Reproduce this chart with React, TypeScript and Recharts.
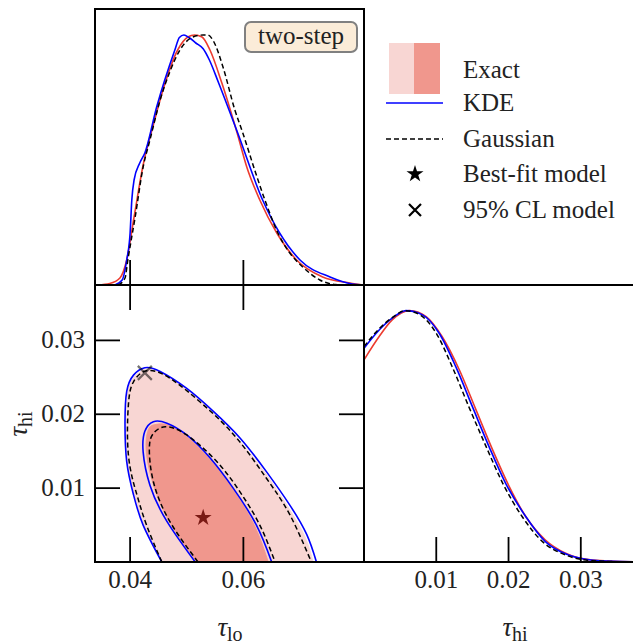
import { ComposedChart, Line, Scatter, XAxis, YAxis, Symbols } from 'recharts';

// ---------------------------------------------------------------------------
// Data
// ---------------------------------------------------------------------------

// 1D marginal of tau_lo, density normalised to the peak
const loExact = [
  [0.0343, 0], [0.0364, 0.006], [0.0382, 0.028], [0.0394, 0.1], [0.0407, 0.272],
  [0.0423, 0.48], [0.0441, 0.64], [0.0458, 0.78], [0.0484, 0.94], [0.0502, 0.992],
  [0.0514, 1.0], [0.0527, 0.992], [0.0541, 0.94], [0.0562, 0.808], [0.0589, 0.608],
  [0.0606, 0.472], [0.0629, 0.34], [0.0659, 0.208], [0.0694, 0.1], [0.074, 0.032],
  [0.0788, 0.008], [0.0813, 0],
];
const loKde = [
  [0.0373, 0], [0.0386, 0.02], [0.0394, 0.1], [0.04, 0.208], [0.0403, 0.34],
  [0.0407, 0.42], [0.0417, 0.488], [0.0426, 0.528], [0.0447, 0.713], [0.0479, 0.94],
  [0.0487, 0.99], [0.0495, 1.0], [0.0504, 0.99], [0.0516, 0.968], [0.0529, 0.945],
  [0.054, 0.9], [0.0556, 0.81], [0.059, 0.608], [0.0634, 0.34], [0.0664, 0.208],
  [0.07, 0.1], [0.0753, 0.032], [0.0792, 0.004], [0.0813, 0],
];
const loGauss = [
  [0.0379, 0], [0.0391, 0.028], [0.0396, 0.1], [0.0409, 0.273], [0.0423, 0.472],
  [0.0435, 0.58], [0.0453, 0.74], [0.047, 0.852], [0.0488, 0.94], [0.0511, 0.992],
  [0.0529, 1.0], [0.0537, 1.0], [0.0548, 0.972], [0.0564, 0.872], [0.0585, 0.7],
  [0.0599, 0.608], [0.062, 0.46], [0.0638, 0.34], [0.0661, 0.208], [0.0682, 0.128],
  [0.0705, 0.072], [0.0735, 0.02], [0.0762, 0.002], [0.0779, 0],
];

// 1D marginal of tau_hi
const hiExact = [
  [0, 0.804], [0.0021, 0.897], [0.0039, 0.963], [0.0063, 1.0], [0.0086, 0.976],
  [0.0108, 0.897], [0.0132, 0.764], [0.0155, 0.605], [0.0178, 0.446], [0.0201, 0.3],
  [0.0224, 0.18], [0.0251, 0.0875], [0.0279, 0.035], [0.0316, 0.008], [0.0375, 0.001],
];
const hiKde = [
  [0, 0.85], [0.0021, 0.923], [0.0039, 0.97], [0.0058, 1.0], [0.0081, 0.983],
  [0.0104, 0.91], [0.0127, 0.777], [0.015, 0.618], [0.0173, 0.459], [0.0196, 0.313],
  [0.0224, 0.18], [0.0251, 0.081], [0.0283, 0.028], [0.0326, 0.005], [0.0375, 0.001],
];
const hiGauss = [
  [0, 0.857], [0.0021, 0.928], [0.0039, 0.972], [0.0057, 1.0], [0.0079, 0.98],
  [0.0101, 0.905], [0.0122, 0.777], [0.0145, 0.618], [0.0169, 0.459], [0.0192, 0.313],
  [0.0219, 0.18], [0.0247, 0.081], [0.0279, 0.028], [0.0316, 0.005], [0.0375, 0],
];

// 2D contours (tau_lo, tau_hi), 95% and 68% levels
const exactOuter = [
  [0.0456, 0], [0.0425, 0.005], [0.0408, 0.0091], [0.0395, 0.0136], [0.0394, 0.019],
  [0.0396, 0.0231], [0.0408, 0.0251], [0.0428, 0.0261], [0.0456, 0.0255], [0.0502, 0.0232],
  [0.0546, 0.0202], [0.0592, 0.0165], [0.064, 0.0119], [0.068, 0.0073], [0.0709, 0.0034],
  [0.0723, 0],
];
const exactInner = [
  [0.0518, 0], [0.0476, 0.0046], [0.0447, 0.0091], [0.0429, 0.0145], [0.0432, 0.0179],
  [0.0444, 0.0186], [0.0465, 0.0186], [0.05, 0.017], [0.0542, 0.0138], [0.0582, 0.0098],
  [0.062, 0.0049], [0.0644, 0],
];
const kdeOuter = [
  [0.0456, 0], [0.0423, 0.005], [0.0406, 0.0091], [0.0394, 0.0136], [0.0391, 0.019],
  [0.0394, 0.0231], [0.0406, 0.0253], [0.0426, 0.0263], [0.0453, 0.0258], [0.05, 0.0235],
  [0.0547, 0.0204], [0.0594, 0.0168], [0.0641, 0.0122], [0.0682, 0.0077], [0.0712, 0.0037],
  [0.0729, 0],
];
const kdeInner = [
  [0.0515, 0], [0.0465, 0.0055], [0.0435, 0.0104], [0.0423, 0.0149], [0.0426, 0.0177],
  [0.0441, 0.019], [0.0465, 0.0188], [0.05, 0.0172], [0.0541, 0.0141], [0.0582, 0.01],
  [0.0623, 0.005], [0.065, 0],
];
const gaussOuter = [
  [0.0456, 0], [0.0429, 0.005], [0.0412, 0.0091], [0.0397, 0.0145], [0.0397, 0.0213],
  [0.0406, 0.0244], [0.0429, 0.0259], [0.047, 0.0249], [0.0529, 0.0213], [0.0588, 0.0168],
  [0.0641, 0.0113], [0.0682, 0.0064], [0.072, 0],
];
const gaussInner = [
  [0.052, 0], [0.047, 0.0055], [0.0441, 0.0109], [0.0434, 0.0154], [0.0441, 0.0174],
  [0.0462, 0.0183], [0.05, 0.0172], [0.0553, 0.0136], [0.0594, 0.0095], [0.0629, 0.005],
  [0.0656, 0],
];
const bestFit = [[0.0529, 0.006]];
const clModel = [[0.0426, 0.0256]];

const LO_TICKS = [0.04, 0.06];
const HI_TICKS = [0.01, 0.02, 0.03];
const LO_DOMAIN = [0.0338, 0.0813];
const HI_DOMAIN = [0, 0.0375];

const LEGEND = [
  { label: 'Exact', kind: 'patch' },
  { label: 'KDE', kind: 'line' },
  { label: 'Gaussian', kind: 'dash' },
  { label: 'Best-fit model', kind: 'star' },
  { label: '95% CL model', kind: 'cross' },
];

// ---------------------------------------------------------------------------
// Styles
// ---------------------------------------------------------------------------

const FONT = '"Liberation Serif", "Times New Roman", serif';
const RED = '#ec3b2f';
const BLUE = '#0000ff';
const LIGHT = '#f8d6d3';
const DARK = '#f0978d';
const DASH = '5 3';

const pts = (a: number[][]) => a.map(([x, y]) => ({ x, y }));

// ---------------------------------------------------------------------------
// Ticks: drawn inward, label outside
// ---------------------------------------------------------------------------

function TickMark(props: any) {
  const { x, y, payload, dir, label } = props;
  const L = 25;
  let x2 = x;
  let y2 = y;
  let tx = x;
  let ty = y + 26;
  let anchor = 'middle';
  if (dir === 'up') y2 = y - L;
  if (dir === 'down') y2 = y + L;
  if (dir === 'right') {
    x2 = x + L;
    tx = x - 10;
    ty = y + 8;
    anchor = 'end';
  }
  if (dir === 'left') x2 = x - L;
  return (
    <g>
      <line x1={x} y1={y} x2={x2} y2={y2} stroke="#000" strokeWidth={1.8} />
      {label && (
        <text x={tx} y={ty} textAnchor={anchor} fontFamily={FONT} fontSize={25} fill="#222">
          {Number(payload.value).toFixed(2)}
        </text>
      )}
    </g>
  );
}

// axis size 1px so recharts still draws it; ticks start at the plot edge
const axisCommon = {
  type: 'number' as const,
  allowDataOverflow: true,
  axisLine: false,
  tickLine: false,
  tickSize: 0,
  tickMargin: 0,
  interval: 0 as const,
};

const NoDot = () => <g />;

const StarShape = (p: any) => (
  <Symbols cx={p.cx} cy={p.cy} type="star" size={90} fill="#7a1a14" />
);

const CrossShape = (p: any) => (
  <path
    d={`M${p.cx - 7},${p.cy - 7}L${p.cx + 7},${p.cy + 7}M${p.cx - 7},${p.cy + 7}L${p.cx + 7},${p.cy - 7}`}
    stroke="#000"
    strokeOpacity={0.55}
    strokeWidth={2.2}
  />
);

const lineProps = { dataKey: 'y', dot: false, isAnimationActive: false, type: 'monotone' as const };

// contour drawn as the joining line of a scatter series (keeps z-order with the fills)
function contour(data: number[][], line: any) {
  return (
    <Scatter
      data={pts(data)}
      line={line}
      lineJointType="natural"
      shape={NoDot}
      isAnimationActive={false}
    />
  );
}

// ---------------------------------------------------------------------------
// Panels
// ---------------------------------------------------------------------------

function LoMarginal() {
  return (
    <ComposedChart width={633} height={644} margin={{ top: 9, left: 95, right: 269, bottom: 358 }}>
      <YAxis dataKey="y" type="number" domain={[0, 1.104]} allowDataOverflow hide />
      <Line data={pts(loExact)} stroke={RED} strokeWidth={1.6} {...lineProps} />
      <Line data={pts(loKde)} stroke={BLUE} strokeWidth={1.6} {...lineProps} />
      <Line data={pts(loGauss)} stroke="#000" strokeWidth={1.5} strokeDasharray={DASH} {...lineProps} />
      <XAxis
        dataKey="x"
        domain={LO_DOMAIN}
        ticks={LO_TICKS}
        height={1}
        {...axisCommon}
        tick={(p: any) => <TickMark {...p} dir="up" />}
      />
    </ComposedChart>
  );
}

function JointPanel() {
  return (
    <ComposedChart width={633} height={644} margin={{ top: 284, left: 94, right: 268, bottom: 81 }}>
      {contour(exactOuter, { fill: LIGHT, stroke: LIGHT, strokeWidth: 0.8 })}
      {contour(exactInner, { fill: DARK, stroke: DARK, strokeWidth: 0.8 })}
      {contour(kdeOuter, { fill: 'none', stroke: BLUE, strokeWidth: 1.6 })}
      {contour(kdeInner, { fill: 'none', stroke: BLUE, strokeWidth: 1.6 })}
      {contour(gaussOuter, { fill: 'none', stroke: '#000', strokeWidth: 1.5, strokeDasharray: DASH })}
      {contour(gaussInner, { fill: 'none', stroke: '#000', strokeWidth: 1.5, strokeDasharray: DASH })}
      <Scatter data={pts(bestFit)} shape={StarShape} isAnimationActive={false} />
      <Scatter data={pts(clModel)} shape={CrossShape} isAnimationActive={false} />
      <XAxis dataKey="x" domain={LO_DOMAIN} ticks={LO_TICKS} height={1} {...axisCommon}
        tick={(p: any) => <TickMark {...p} dir="up" label />} />
      <XAxis xAxisId="top" orientation="top" dataKey="x" domain={LO_DOMAIN} ticks={LO_TICKS} height={1} {...axisCommon}
        tick={(p: any) => <TickMark {...p} dir="down" />} />
      <YAxis dataKey="y" domain={HI_DOMAIN} ticks={HI_TICKS} width={1} {...axisCommon}
        tick={(p: any) => <TickMark {...p} dir="right" label />} />
      <YAxis yAxisId="right" orientation="right" dataKey="y" domain={HI_DOMAIN} ticks={HI_TICKS} width={1} {...axisCommon}
        tick={(p: any) => <TickMark {...p} dir="left" />} />
    </ComposedChart>
  );
}

function HiMarginal() {
  return (
    <ComposedChart width={680} height={644} margin={{ top: 285, left: 364, right: 45, bottom: 81 }}>
      <YAxis dataKey="y" type="number" domain={[0, 1.102]} allowDataOverflow hide />
      <Line data={pts(hiExact)} stroke={RED} strokeWidth={1.6} {...lineProps} />
      <Line data={pts(hiKde)} stroke={BLUE} strokeWidth={1.6} {...lineProps} />
      <Line data={pts(hiGauss)} stroke="#000" strokeWidth={1.5} strokeDasharray={DASH} {...lineProps} />
      <XAxis dataKey="x" domain={HI_DOMAIN} ticks={HI_TICKS} height={1} {...axisCommon}
        tick={(p: any) => <TickMark {...p} dir="up" label />} />
    </ComposedChart>
  );
}

// ---------------------------------------------------------------------------
// Frame, labels and legend
// ---------------------------------------------------------------------------

function LegendMark({ kind, y }: { kind: string; y: number }) {
  if (kind === 'patch')
    return (
      <g>
        <rect x={389} y={43} width={25} height={51} fill={LIGHT} />
        <rect x={414} y={43} width={26} height={51} fill={DARK} />
      </g>
    );
  if (kind === 'line') return <line x1={386} x2={443} y1={y} y2={y} stroke={BLUE} strokeWidth={1.6} />;
  if (kind === 'dash')
    return <line x1={386} x2={443} y1={y} y2={y} stroke="#000" strokeWidth={1.5} strokeDasharray={DASH} />;
  if (kind === 'star') return <Symbols cx={415} cy={y} type="star" size={90} fill="#000" />;
  return (
    <path d={`M409,${y - 6}L421,${y + 6}M409,${y + 6}L421,${y - 6}`} stroke="#000" strokeWidth={2.2} />
  );
}

function Overlay() {
  const rows = [70, 103, 139, 174, 210];
  return (
    <svg width={633} height={644} style={{ position: 'absolute', left: 0, top: 0 }}>
      <g fill="none" stroke="#000" strokeWidth={2}>
        <rect x={95} y={9} width={269} height={276} />
        <rect x={95} y={285} width={269} height={277} />
        <rect x={364} y={285} width={272} height={277} />
      </g>

      <rect x={245} y={22} width={112} height={30} rx={6} fill="#fbecd8" stroke="#808080" strokeWidth={2} />
      <text x={301} y={44} textAnchor="middle" fontFamily={FONT} fontSize={25} fill="#222">two-step</text>

      {LEGEND.map((item, i) => (
        <g key={item.label}>
          <LegendMark kind={item.kind} y={rows[i]} />
          <text x={463} y={rows[i] + 8} fontFamily={FONT} fontSize={25} fill="#222">{item.label}</text>
        </g>
      ))}

      <text x={230} y={636} textAnchor="middle" fontFamily={FONT} fill="#222">
        <tspan fontSize={27} fontStyle="italic">τ</tspan>
        <tspan fontSize={20} dy={5}>lo</tspan>
      </text>
      <text x={515} y={636} textAnchor="middle" fontFamily={FONT} fill="#222">
        <tspan fontSize={27} fontStyle="italic">τ</tspan>
        <tspan fontSize={20} dy={5}>hi</tspan>
      </text>
      <g transform="translate(27,424) rotate(-90)">
        <text x={0} y={0} textAnchor="middle" fontFamily={FONT} fill="#222">
          <tspan fontSize={27} fontStyle="italic">τ</tspan>
          <tspan fontSize={20} dy={5}>hi</tspan>
        </text>
      </g>
    </svg>
  );
}

export default function App() {
  const layer: React.CSSProperties = { position: 'absolute', left: 0, top: 0 };
  return (
    <div style={{ position: 'absolute', left: 0, top: 0, width: 633, height: 644, overflow: 'hidden', background: '#fff' }}>
      <div style={layer}><LoMarginal /></div>
      <div style={layer}><JointPanel /></div>
      <div style={layer}><HiMarginal /></div>
      <Overlay />
    </div>
  );
}
